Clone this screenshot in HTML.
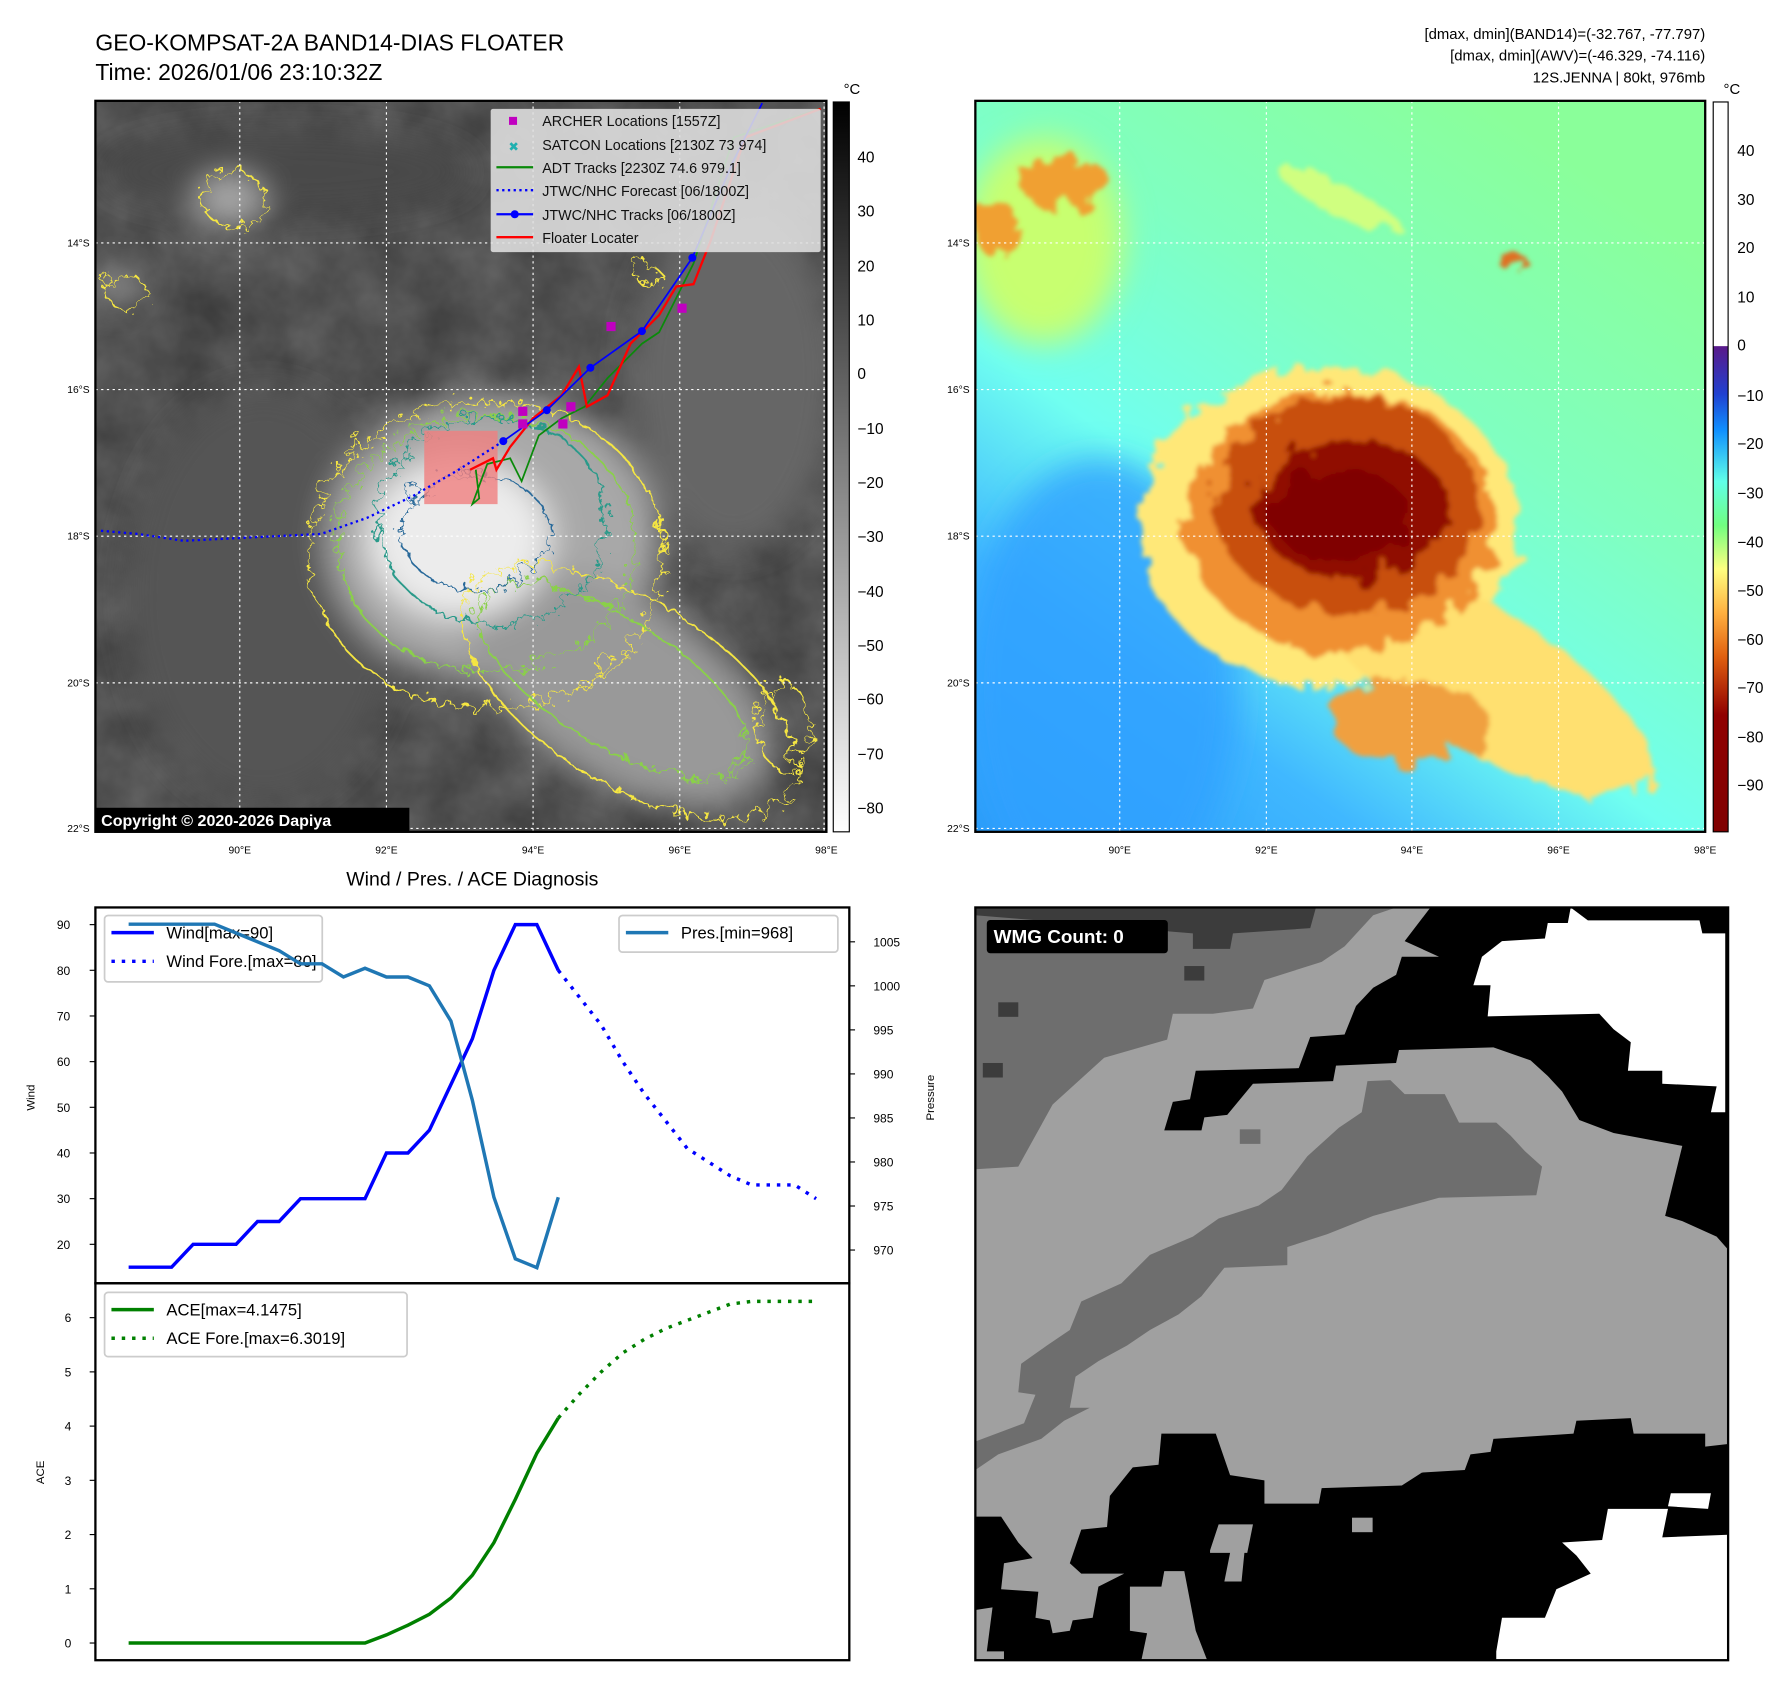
<!DOCTYPE html>
<html><head><meta charset="utf-8"><style>
html,body{margin:0;padding:0;background:#fff;}
svg{display:block;font-family:"Liberation Sans","DejaVu Sans",sans-serif;}
</style></head><body>
<svg id="root" width="1788" height="1690" viewBox="0 0 1560 1475" xmlns="http://www.w3.org/2000/svg">
<defs>
  <filter id="noise" x="0" y="0" width="100%" height="100%">
    <feTurbulence type="fractalNoise" baseFrequency="0.02" numOctaves="4" seed="3"/>
    <feColorMatrix type="matrix" values="0 0 0 0 0.5  0 0 0 0 0.5  0 0 0 0 0.5  0 0 0 0.35 0"/>
  </filter>
  <filter id="blur6"><feGaussianBlur stdDeviation="6"/></filter>
  <filter id="blur14"><feGaussianBlur stdDeviation="14"/></filter>
  <filter id="wobble" x="-10%" y="-10%" width="120%" height="120%">
    <feTurbulence type="turbulence" baseFrequency="0.06" numOctaves="3" seed="7" result="t"/>
    <feDisplacementMap in="SourceGraphic" in2="t" scale="22"/>
  </filter>
  <filter id="rough" x="-10%" y="-10%" width="120%" height="120%">
    <feTurbulence type="fractalNoise" baseFrequency="0.05" numOctaves="3" seed="11" result="t"/>
    <feDisplacementMap in="SourceGraphic" in2="t" scale="30"/>
    <feGaussianBlur stdDeviation="2"/>
  </filter>
  <linearGradient id="cbGray" x1="0" y1="0" x2="0" y2="1">
    <stop offset="0" stop-color="#000"/><stop offset="1" stop-color="#fff"/>
  </linearGradient>
  <linearGradient id="cbJet" x1="0" y1="0" x2="0" y2="1">
    <stop offset="0" stop-color="#fff"/><stop offset="0.334" stop-color="#fff"/>
    <stop offset="0.335" stop-color="#5a1a8a"/><stop offset="0.40" stop-color="#2040d0"/>
    <stop offset="0.45" stop-color="#1090ff"/><stop offset="0.52" stop-color="#60ffe8"/>
    <stop offset="0.58" stop-color="#70ff80"/><stop offset="0.64" stop-color="#ffff80"/>
    <stop offset="0.70" stop-color="#ffb040"/><stop offset="0.76" stop-color="#e06010"/>
    <stop offset="0.84" stop-color="#900000"/><stop offset="1" stop-color="#800000"/>
  </linearGradient>
  <linearGradient id="jetBg" x1="0" y1="1" x2="0.7" y2="0">
    <stop offset="0" stop-color="#2a9cf8"/><stop offset="0.25" stop-color="#40b8ff"/>
    <stop offset="0.45" stop-color="#70fff0"/><stop offset="0.7" stop-color="#80ffc0"/>
    <stop offset="1" stop-color="#8aff9a"/>
  </linearGradient>
  <clipPath id="clipL"><rect x="83" y="88" width="638" height="638"/></clipPath>
  <clipPath id="clipR"><rect x="851" y="88" width="637" height="638"/></clipPath>
</defs>

<text x="83" y="44" font-size="20">GEO-KOMPSAT-2A BAND14-DIAS FLOATER</text>
<text x="83" y="70" font-size="20">Time: 2026/01/06 23:10:32Z</text>
<g font-size="13" text-anchor="end">
  <text x="1488" y="34">[dmax, dmin](BAND14)=(-32.767, -77.797)</text>
  <text x="1488" y="53">[dmax, dmin](AWV)=(-46.329, -74.116)</text>
  <text x="1488" y="72">12S.JENNA | 80kt, 976mb</text>
</g>

<!-- LEFT MAP -->
<g clip-path="url(#clipL)">
  <rect x="83" y="88" width="638" height="638" fill="#3a3a3a"/>
  <rect x="83" y="88" width="638" height="638" filter="url(#noise)"/>
  <g filter="url(#blur14)">
    <ellipse cx="250" cy="150" rx="160" ry="35" fill="#4a4a4a"/>
    <ellipse cx="640" cy="330" rx="90" ry="150" fill="#666"/>
    <ellipse cx="230" cy="520" rx="120" ry="180" fill="#555"/>
    <ellipse cx="430" cy="470" rx="145" ry="125" fill="#a8a8a8"/>
    <ellipse cx="540" cy="600" rx="150" ry="80" fill="#999" transform="rotate(32 540 600)"/>
    <ellipse cx="400" cy="470" rx="80" ry="70" fill="#ececec"/>
    <ellipse cx="200" cy="175" rx="30" ry="22" fill="#aaa"/>
    <ellipse cx="100" cy="250" rx="20" ry="15" fill="#999"/>
  </g>
  <g filter="url(#wobble)" fill="none" stroke-width="1.6">
    <ellipse cx="420" cy="480" rx="155" ry="135" stroke="#f5e642"/>
    <ellipse cx="545" cy="600" rx="165" ry="80" transform="rotate(32 545 600)" stroke="#f5e642"/>
    <ellipse cx="420" cy="470" rx="130" ry="112" stroke="#8ad04a"/>
    <ellipse cx="530" cy="590" rx="135" ry="55" transform="rotate(32 530 590)" stroke="#8ad04a"/>
    <ellipse cx="425" cy="450" rx="100" ry="90" stroke="#2a9a8a"/>
    <ellipse cx="410" cy="460" rx="65" ry="50" stroke="#2a6a9a"/>
    <ellipse cx="200" cy="170" rx="28" ry="24" stroke="#f5e642"/>
    <ellipse cx="105" cy="250" rx="18" ry="14" stroke="#f5e642"/>
    <ellipse cx="680" cy="630" rx="22" ry="38" stroke="#f5e642"/>
    <ellipse cx="560" cy="235" rx="11" ry="8" stroke="#f5e642"/>
  </g>
  <rect x="370" y="376" width="64" height="64" fill="#f08080" opacity="0.8"/>
  <g stroke="#fff" stroke-width="1" stroke-dasharray="2,3">
    <line x1="209" y1="88" x2="209" y2="726"/><line x1="337" y1="88" x2="337" y2="726"/>
    <line x1="465" y1="88" x2="465" y2="726"/><line x1="593" y1="88" x2="593" y2="726"/>
    <line x1="719" y1="88" x2="719" y2="726"/>
    <line x1="83" y1="212" x2="721" y2="212"/><line x1="83" y1="340" x2="721" y2="340"/>
    <line x1="83" y1="468" x2="721" y2="468"/><line x1="83" y1="596" x2="721" y2="596"/>
    <line x1="83" y1="723" x2="721" y2="723"/>
  </g>
  <polyline points="439,385 400,410 360,433 320,452 280,466 240,468 200,470 160,472 120,466 85,463" fill="none" stroke="#0000ff" stroke-width="2" stroke-dasharray="2,3"/>
  <polyline points="415,410 418,435 412,440 425,405 445,400 455,420 470,380 490,365 510,355 530,330 560,300 575,290 605,230 640,120 715,95" fill="none" stroke="#0a8a0a" stroke-width="1.5"/>
  <polyline points="410,410 430,400 433,410 445,390 465,365 490,345 505,320 512,355 530,345 550,300 575,275 590,250 605,248 620,210 640,150 650,120 716,95" fill="none" stroke="#ff0000" stroke-width="2"/>
  <polyline points="439,385 477,358 515,321 560,289 604,225 640,140 665,90" fill="none" stroke="#0000ff" stroke-width="1.5"/>
  <g fill="#0000ff"><circle cx="439" cy="385" r="3.5"/><circle cx="477" cy="358" r="3.5"/><circle cx="515" cy="321" r="3.5"/><circle cx="560" cy="289" r="3.5"/><circle cx="604" cy="225" r="3.5"/></g>
  <g fill="#c000c0">
    <rect x="452" y="355" width="8" height="8"/><rect x="494" y="351" width="8" height="8"/><rect x="487" y="366" width="8" height="8"/>
    <rect x="529" y="281" width="8" height="8"/><rect x="591" y="265" width="8" height="8"/><rect x="452" y="366" width="8" height="8"/>
  </g>
  <rect x="83" y="705" width="274" height="21" fill="#000"/>
  <text x="88" y="721" font-size="14" font-weight="bold" fill="#fff">Copyright © 2020-2026 Dapiya</text>
</g>
<rect x="83" y="88" width="638" height="638" fill="none" stroke="#000" stroke-width="2"/>
<g>
  <rect x="428" y="95" width="288" height="125" fill="#e0e0e0" opacity="0.88" rx="2"/>
  <rect x="444" y="102" width="7" height="7" fill="#c000c0"/>
  <text x="448" y="132" font-size="11" fill="#20b0b0" text-anchor="middle">✖</text>
  <line x1="433" y1="146" x2="465" y2="146" stroke="#0a8a0a" stroke-width="2"/>
  <line x1="433" y1="166" x2="465" y2="166" stroke="#0000ff" stroke-width="2" stroke-dasharray="2,3"/>
  <line x1="433" y1="187" x2="465" y2="187" stroke="#0000ff" stroke-width="2"/><circle cx="449" cy="187" r="3.5" fill="#0000ff"/>
  <line x1="433" y1="207" x2="465" y2="207" stroke="#ff0000" stroke-width="2"/>
  <g font-size="12.5" fill="#111">
    <text x="473" y="110">ARCHER Locations [1557Z]</text>
    <text x="473" y="131">SATCON Locations [2130Z 73 974]</text>
    <text x="473" y="151">ADT Tracks [2230Z 74.6 979.1]</text>
    <text x="473" y="171">JTWC/NHC Forecast [06/1800Z]</text>
    <text x="473" y="192">JTWC/NHC Tracks [06/1800Z]</text>
    <text x="473" y="212">Floater Locater</text>
  </g>
</g>
<g font-size="9" fill="#000">
  <g text-anchor="end"><text x="78" y="215">14°S</text><text x="78" y="343">16°S</text><text x="78" y="471">18°S</text><text x="78" y="599">20°S</text><text x="78" y="726">22°S</text></g>
  <g text-anchor="middle"><text x="209" y="745">90°E</text><text x="337" y="745">92°E</text><text x="465" y="745">94°E</text><text x="593" y="745">96°E</text><text x="721" y="745">98°E</text></g>
</g>
<g>
  <rect x="727" y="89" width="14" height="637" fill="url(#cbGray)" stroke="#000" stroke-width="1"/>
  <text x="736" y="82" font-size="13">°C</text>
  <g font-size="13.5" fill="#000">
    <text x="748" y="142">40</text><text x="748" y="189">30</text><text x="748" y="237">20</text><text x="748" y="284">10</text><text x="748" y="331">0</text>
    <text x="748" y="379">−10</text><text x="748" y="426">−20</text><text x="748" y="473">−30</text><text x="748" y="521">−40</text><text x="748" y="568">−50</text>
    <text x="748" y="615">−60</text><text x="748" y="663">−70</text><text x="748" y="710">−80</text>
  </g>
</g>

<!-- RIGHT MAP -->
<g clip-path="url(#clipR)">
  <rect x="851" y="88" width="637" height="638" fill="url(#jetBg)"/>
  <g filter="url(#blur14)">
    <ellipse cx="960" cy="600" rx="120" ry="200" fill="#30a0ff" opacity="0.8"/>
    <ellipse cx="910" cy="210" rx="70" ry="90" fill="#c8ff70"/>
  </g>
  <g filter="url(#rough)">
    <ellipse cx="1160" cy="460" rx="165" ry="140" fill="#ffe878"/>
    <ellipse cx="1290" cy="590" rx="175" ry="60" fill="#ffe070" transform="rotate(32 1290 590)"/>
    <ellipse cx="1170" cy="455" rx="135" ry="115" fill="#f09030"/>
    <ellipse cx="1230" cy="630" rx="70" ry="35" fill="#f0a040"/>
    <ellipse cx="1175" cy="440" rx="115" ry="95" fill="#c85008"/>
    <ellipse cx="1180" cy="445" rx="85" ry="60" fill="#901000"/>
    <ellipse cx="1170" cy="450" rx="60" ry="40" fill="#800000"/>
    <ellipse cx="930" cy="160" rx="40" ry="22" fill="#f0a030"/>
    <ellipse cx="870" cy="200" rx="18" ry="26" fill="#f0a030"/>
    <ellipse cx="1320" cy="228" rx="12" ry="9" fill="#e07020"/>
    <ellipse cx="1170" cy="175" rx="60" ry="12" fill="#d0ff80" transform="rotate(25 1170 175)"/>
  </g>
  <g stroke="#fff" stroke-width="1" stroke-dasharray="2,3">
    <line x1="977" y1="88" x2="977" y2="726"/><line x1="1105" y1="88" x2="1105" y2="726"/>
    <line x1="1232" y1="88" x2="1232" y2="726"/><line x1="1360" y1="88" x2="1360" y2="726"/>
    <line x1="851" y1="212" x2="1488" y2="212"/><line x1="851" y1="340" x2="1488" y2="340"/>
    <line x1="851" y1="468" x2="1488" y2="468"/><line x1="851" y1="596" x2="1488" y2="596"/>
    <line x1="851" y1="723" x2="1488" y2="723"/>
  </g>
</g>
<rect x="851" y="88" width="637" height="638" fill="none" stroke="#000" stroke-width="2"/>
<g font-size="9" fill="#000">
  <g text-anchor="end"><text x="846" y="215">14°S</text><text x="846" y="343">16°S</text><text x="846" y="471">18°S</text><text x="846" y="599">20°S</text><text x="846" y="726">22°S</text></g>
  <g text-anchor="middle"><text x="977" y="745">90°E</text><text x="1105" y="745">92°E</text><text x="1232" y="745">94°E</text><text x="1360" y="745">96°E</text><text x="1488" y="745">98°E</text></g>
</g>
<g>
  <rect x="1495" y="89" width="13" height="637" fill="url(#cbJet)" stroke="#000" stroke-width="1"/>
  <text x="1504" y="82" font-size="13">°C</text>
  <g font-size="13.5" fill="#000">
    <text x="1516" y="136">40</text><text x="1516" y="179">30</text><text x="1516" y="221">20</text><text x="1516" y="264">10</text><text x="1516" y="306">0</text>
    <text x="1516" y="350">−10</text><text x="1516" y="392">−20</text><text x="1516" y="435">−30</text><text x="1516" y="478">−40</text><text x="1516" y="520">−50</text>
    <text x="1516" y="563">−60</text><text x="1516" y="605">−70</text><text x="1516" y="648">−80</text><text x="1516" y="690">−90</text>
  </g>
</g>

<!-- WMG PANEL -->
<g>
  <g transform="translate(783.56,771.64) scale(0.4996,0.4525)">
    <rect x="135" y="45" width="1315" height="1452" fill="#a0a0a0"/>
    <polygon fill="#6e6e6e" points="135,45 870,45 830,60 780,120 740,150 640,185 620,240 550,250 480,250 470,300 360,335 270,425 210,545 135,550"/>
    <polygon fill="#3c3c3c" points="135,45 730,45 720,85 585,95 580,125 515,125 515,95 300,75 135,60"/>
    <rect x="500" y="158" width="35" height="28" fill="#3c3c3c"/><rect x="175" y="228" width="35" height="28" fill="#3c3c3c"/><rect x="148" y="345" width="35" height="28" fill="#3c3c3c"/>
    <polygon fill="#000" points="930,45 1450,45 1450,705 1430,680 1370,650 1340,640 1370,505 1250,480 1190,455 1160,400 1135,370 1105,340 1040,315 875,320 870,345 765,350 760,380 620,385 575,445 535,450 530,475 465,475 480,420 510,415 520,360 700,355 720,295 780,290 800,235 830,200 870,175 880,140 945,140 885,110"/>
    <polygon fill="#fff" points="1175,45 1205,70 1400,70 1405,95 1445,95 1445,440 1420,440 1430,390 1335,385 1335,360 1275,360 1280,305 1250,280 1225,250 1030,255 1035,195 1005,195 1020,140 1055,110 1130,105 1135,75 1170,75"/>
    <polygon fill="#6e6e6e" points="820,380 860,378 885,405 955,405 980,460 1045,460 1070,485 1095,515 1125,545 1115,600 945,605 830,640 750,675 680,700 680,735 570,740 530,795 490,830 440,860 400,890 350,920 310,950 300,1010 335,1010 290,1035 250,1070 175,1100 135,1130 135,1075 220,1040 240,985 210,980 215,925 260,890 300,860 320,805 390,770 440,715 515,680 560,645 630,620 670,590 715,525 770,470 810,440"/>
    <rect x="597" y="473" width="36" height="28" fill="#6e6e6e"/>
    <polygon fill="#000" points="135,1220 180,1220 210,1270 235,1300 185,1310 180,1360 245,1365 240,1415 265,1420 270,1445 300,1440 305,1420 340,1415 350,1355 395,1330 320,1330 300,1310 320,1245 365,1240 370,1180 410,1125 455,1120 460,1060 555,1060 580,1140 640,1150 640,1195 735,1195 740,1165 880,1160 915,1135 990,1130 1000,1100 1035,1095 1040,1070 1180,1060 1185,1035 1280,1030 1285,1060 1410,1060 1410,1085 1450,1080 1450,1497 135,1497"/>
    <polygon fill="#a0a0a0" points="405,1355 460,1355 465,1325 500,1325 520,1440 540,1497 425,1497 435,1445 405,1440"/>
    <polygon fill="#a0a0a0" points="545,1285 560,1235 620,1235 610,1290 580,1290 570,1345 600,1345 605,1290 545,1290"/>
    <rect x="793" y="1222" width="36" height="28" fill="#a0a0a0"/>
    <polygon fill="#a0a0a0" points="135,1400 165,1395 155,1480 185,1480 185,1497 135,1497"/>
    <polygon fill="#fff" points="1045,1480 1055,1415 1130,1415 1150,1360 1210,1330 1185,1295 1160,1270 1230,1265 1240,1205 1345,1205 1335,1260 1450,1255 1450,1497 1045,1497"/>
    <polygon fill="#fff" points="1350,1175 1420,1175 1415,1205 1345,1200"/>
  </g>
  <rect x="851" y="792" width="657" height="657" fill="none" stroke="#000" stroke-width="2"/>
  <rect x="861" y="803" width="158" height="29" rx="3" fill="#000"/>
  <text x="867" y="823" font-size="16.5" font-weight="bold" fill="#fff">WMG Count: 0</text>
</g>

<text x="412" y="773" font-size="17" text-anchor="middle">Wind / Pres. / ACE Diagnosis</text>
<g id="chart"></g>
</svg>
<script>
const windObs = [15,15,15,20,20,20,25,25,30,30,30,30,40,40,45,55,65,80,90,90,80];
const windFore = [80,74,68,60,53,47,41,38,35,33,33,33,30];
const presObs = [1007,1007,1007,1007,1007,1006,1005,1004,1002.5,1002.5,1001,1002,1001,1001,1000,996,987,976,969,968,976];
const aceObs = [0,0,0,0,0,0,0,0,0,0,0,0,0.15,0.33,0.53,0.83,1.25,1.85,2.65,3.5,4.15];
const aceFore = [4.15,4.6,5.0,5.35,5.6,5.8,5.95,6.1,6.25,6.3,6.3,6.3,6.3];
const windTicks = [20,30,40,50,60,70,80,90];
const presTicks = [970,975,980,985,990,995,1000,1005];
const aceTicks = [0,1,2,3,4,5,6];

const NS = 'http://www.w3.org/2000/svg';
const chart = document.getElementById('chart');
const xOf = i => 112 + 18.75 * i;
const yWind = v => 807 + (90 - v) * 3.986;
const yPres = p => 822 + (1005 - p) * 7.686;
const yAce = a => 1434 - a * 47.33;
const foreStart = windObs.length - 1;

function mk(tag, attrs, parent) {
  const e = document.createElementNS(NS, tag);
  for (const k in attrs) e.setAttribute(k, attrs[k]);
  (parent || chart).appendChild(e);
  return e;
}
function line(vals, yf, off, color, dash, name) {
  const pts = vals.map((v, i) => xOf(i + off).toFixed(1) + ',' + yf(v).toFixed(1)).join(' ');
  const p = mk('polyline', {points: pts, fill: 'none', stroke: color, 'stroke-width': 3});
  if (dash) p.setAttribute('stroke-dasharray', '3,6');
  
  
}
function legend(x, y, w, h, entries, name) {
  const g = mk('g', {});
  
  
  mk('rect', {x: x, y: y, width: w, height: h, rx: 3, fill: '#fff', 'fill-opacity': 0.8, stroke: '#ccc', 'stroke-width': 1.5}, g);
  entries.forEach((e, i) => {
    const cy = y + 15 + i * 25;
    const l = mk('line', {x1: x + 6, x2: x + 43, y1: cy, y2: cy, stroke: e[1], 'stroke-width': 3}, g);
    if (e[2]) l.setAttribute('stroke-dasharray', '3,6');
    const t = mk('text', {x: x + 54, y: cy + 5, 'font-size': 14.5}, g);
    t.textContent = e[0];
  });
}

const f1 = mk('rect', {x: 83, y: 792, width: 658, height: 328, fill: 'none', stroke: '#000', 'stroke-width': 2});


const f2 = mk('rect', {x: 83, y: 1120, width: 658, height: 329, fill: 'none', stroke: '#000', 'stroke-width': 2});



windTicks.forEach(v => {
  const y = yWind(v);
  mk('line', {x1: 78, x2: 83, y1: y, y2: y, stroke: '#000'});
  const t = mk('text', {x: 61, y: y + 4, 'font-size': 10.5, 'text-anchor': 'end'});
  t.textContent = v;
  
  
});
presTicks.forEach(v => {
  const y = yPres(v);
  mk('line', {x1: 741, x2: 746, y1: y, y2: y, stroke: '#000'});
  const t = mk('text', {x: 762, y: y + 4, 'font-size': 10.5});
  t.textContent = v;
  
  
});
aceTicks.forEach(v => {
  const y = yAce(v);
  mk('line', {x1: 78, x2: 83, y1: y, y2: y, stroke: '#000'});
  const t = mk('text', {x: 62, y: y + 4, 'font-size': 10.5, 'text-anchor': 'end'});
  t.textContent = v;
  
  
});
[['Wind', 30, 958, 'wind-axis-title'], ['Pressure', 815, 958, 'pressure-axis-title'], ['ACE', 38, 1285, 'ace-axis-title']].forEach(a => {
  const t = mk('text', {x: a[1], y: a[2], 'font-size': 10, 'text-anchor': 'middle', transform: `rotate(-90 ${a[1]} ${a[2]})`});
  t.textContent = a[0];
  
  
});

line(windObs, yWind, 0, '#0000ff', false, 'wind-line');
line(windFore, yWind, foreStart, '#0000ff', true, 'wind-forecast-line');
legend(91, 799, 190, 58, [['Wind[max=90]', '#0000ff', false], ['Wind Fore.[max=80]', '#0000ff', true]], 'wind-legend');
line(presObs, yPres, 0, '#1f77b4', false, 'pressure-line');
legend(540, 799, 191, 32, [['Pres.[min=968]', '#1f77b4', false]], 'pressure-legend');
line(aceObs, yAce, 0, '#008000', false, 'ace-line');
line(aceFore, yAce, foreStart, '#008000', true, 'ace-forecast-line');
legend(91, 1128, 264, 56, [['ACE[max=4.1475]', '#008000', false], ['ACE Fore.[max=6.3019]', '#008000', true]], 'ace-legend');
</script>
</body></html>
